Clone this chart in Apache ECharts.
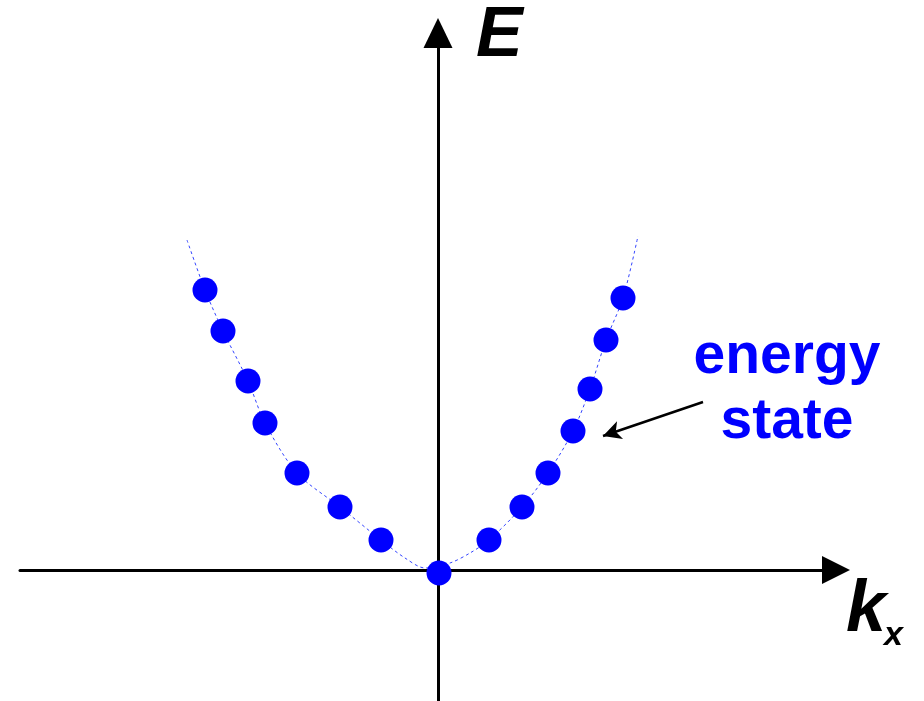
<!DOCTYPE html>
<html>
<head>
<meta charset="utf-8">
<script src="https://cdn.jsdelivr.net/npm/echarts@6/dist/echarts.min.js"></script>
<style>
  html, body { margin: 0; padding: 0; background: #fff; }
  #chart { width: 924px; height: 701px; }
</style>
</head>
<body>
<div id="chart"></div>
<script>
// energy states (k, E)
const stateK = [-23.3, -21.5, -19.0, -17.3, -14.1, -9.8, -5.7, 0.1, 5.1, 8.4, 11.0, 13.5, 15.2, 16.8, 18.5];
const stateE = [28.0, 23.9, 18.9, 14.7, 9.7, 6.3, 3.0, -0.3, 3.0, 6.3, 9.7, 13.9, 18.1, 23.0, 27.2];

// dashed dispersion curve
const curveK = [-25.1, -23.3, -21.5, -19.0, -17.3, -14.1, -9.8, -5.7, -3.3, -1.3, 1.2, 3.2, 5.1, 8.4, 11.0, 13.5, 15.2, 16.8, 18.5, 20.0];
const curveE = [33.0, 28.0, 23.9, 18.9, 14.7, 9.7, 6.3, 3.0, 1.2, 0.2, 0.7, 1.7, 3.0, 6.3, 9.7, 13.9, 18.1, 23.0, 27.2, 33.4];

// annotation arrow, from label to curve
const arrowFrom = [26.5, 16.8];
const arrowTo = [16.5, 13.4];

const chart = echarts.init(document.getElementById('chart'));
const font = '"Liberation Sans", Arial, sans-serif';

const option = {
  animation: false,
  grid: { left: 20, right: 88, top: 33, bottom: 0 },
  xAxis: {
    type: 'value', min: -41.8, max: 39.8,
    axisLine: { onZero: true, symbol: ['none', 'triangle'], symbolSize: [28, 28],
      lineStyle: { color: '#000', width: 3 } },
    axisTick: { show: false }, axisLabel: { show: false }, splitLine: { show: false }
  },
  yAxis: {
    type: 'value', min: -13.1, max: 53.7,
    axisLine: { onZero: true, symbol: ['none', 'triangle'], symbolSize: [29, 30],
      lineStyle: { color: '#000', width: 3 } },
    axisTick: { show: false }, axisLabel: { show: false }, splitLine: { show: false }
  },
  series: [
    {
      type: 'line',
      data: curveK.map((k, i) => [k, curveE[i]]),
      smooth: 0.3,
      showSymbol: false,
      lineStyle: { color: '#3344ff', width: 1, type: [3, 3] },
      z: 1
    },
    {
      type: 'scatter',
      data: stateK.map((k, i) => [k, stateE[i]]),
      symbolSize: 25,
      itemStyle: { color: '#0000ff', opacity: 1 },
      z: 2,
      markLine: {
        silent: true,
        symbol: ['none', 'arrow'],
        symbolSize: [14, 18],
        label: { show: false },
        lineStyle: { color: '#000', width: 2.5, type: 'solid' },
        data: [[{ coord: arrowFrom }, { coord: arrowTo }]]
      }
    }
  ],
  graphic: [
    { type: 'text', style: { text: 'E', x: 476, y: 37, font: 'italic bold 70px ' + font,
        fill: '#000', textVerticalAlign: 'middle' } },
    { type: 'text', style: { text: 'k', x: 846, y: 611, font: 'italic bold 72px ' + font,
        fill: '#000', textVerticalAlign: 'middle' } },
    { type: 'text', style: { text: 'x', x: 884, y: 636, font: 'italic bold 34px ' + font,
        fill: '#000', textVerticalAlign: 'middle' } },
    { type: 'text', style: { text: 'energy', x: 787, y: 357, font: 'bold 57px ' + font,
        fill: '#0000ff', textAlign: 'center', textVerticalAlign: 'middle' } },
    { type: 'text', style: { text: 'state', x: 787, y: 422, font: 'bold 57px ' + font,
        fill: '#0000ff', textAlign: 'center', textVerticalAlign: 'middle' } }
  ]
};

chart.setOption(option);
</script>
</body>
</html>
